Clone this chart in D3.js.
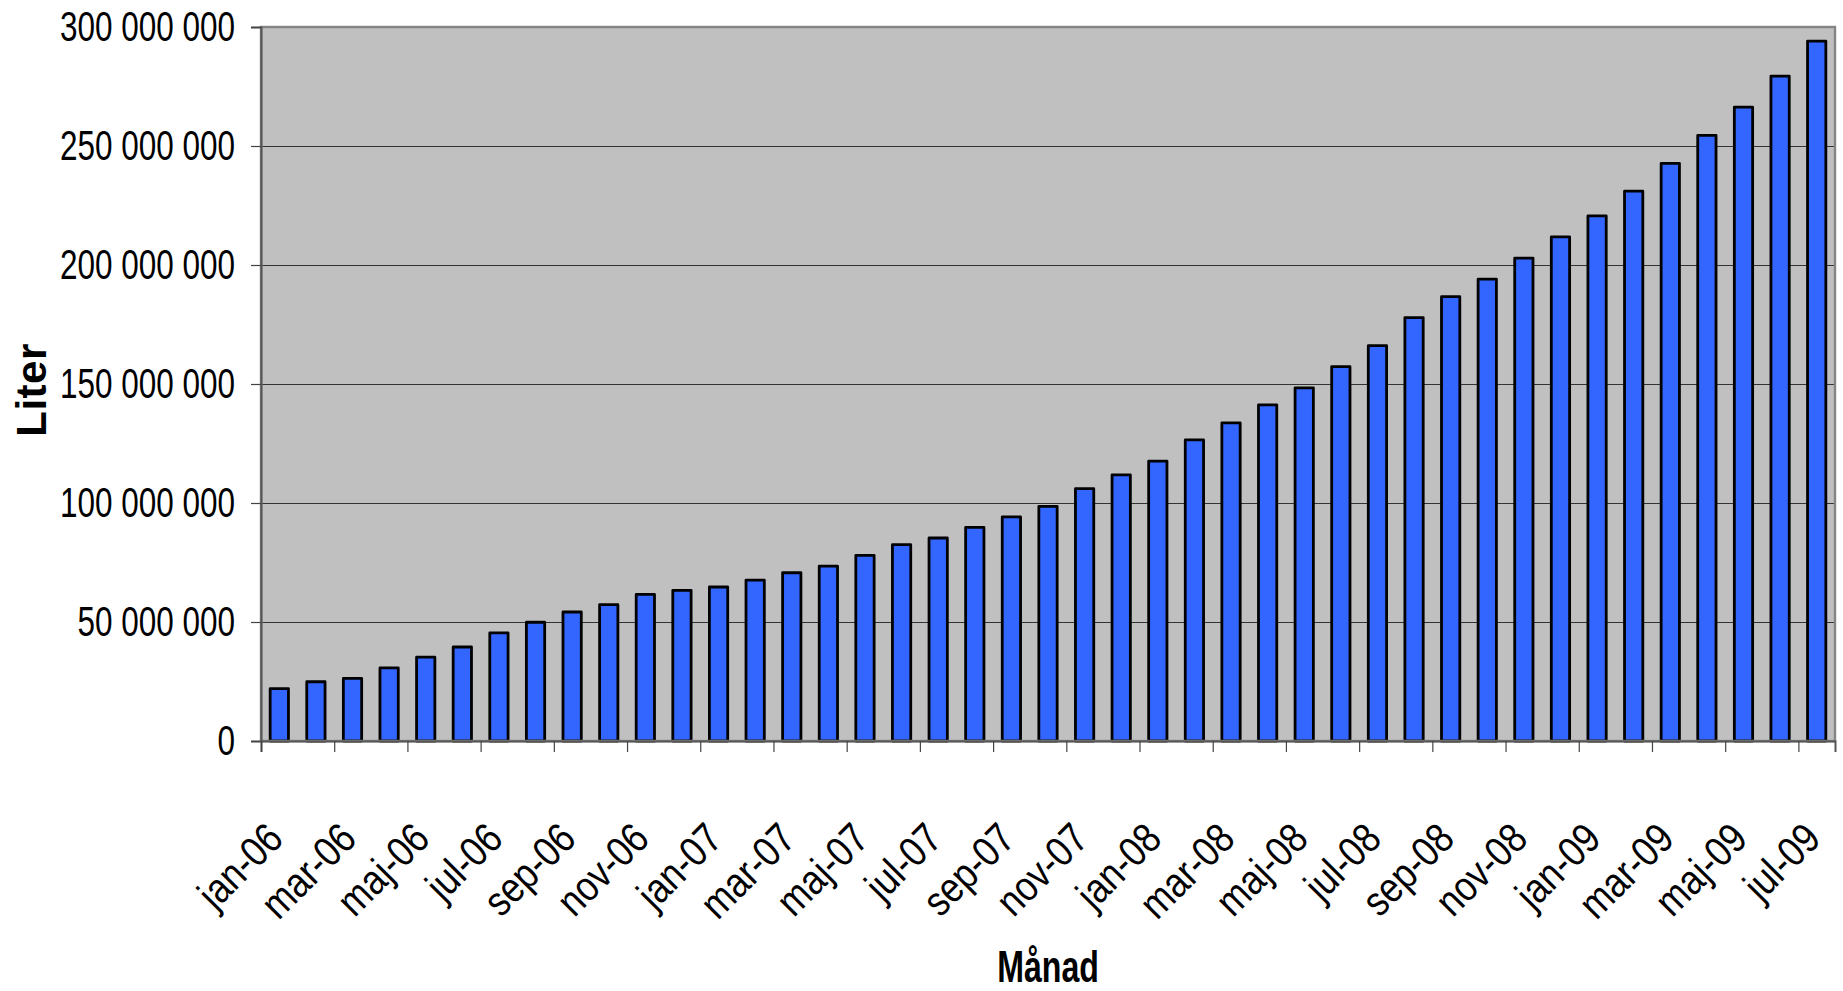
<!DOCTYPE html>
<html>
<head>
<meta charset="utf-8">
<script src="https://cdn.jsdelivr.net/npm/d3@7"></script>
<style>
  html, body { margin: 0; padding: 0; background: #ffffff; }
  svg { display: block; }
  text { font-family: "Liberation Sans", Arial, sans-serif; fill: #000; }
</style>
</head>
<body>
<svg id="chart" width="1843" height="991"></svg>
<script>
// Monthly categories, jan-06 .. jul-09
const categories = [
  "jan-06","feb-06","mar-06","apr-06","maj-06","jun-06","jul-06","aug-06","sep-06","okt-06","nov-06","dec-06",
  "jan-07","feb-07","mar-07","apr-07","maj-07","jun-07","jul-07","aug-07","sep-07","okt-07","nov-07","dec-07",
  "jan-08","feb-08","mar-08","apr-08","maj-08","jun-08","jul-08","aug-08","sep-08","okt-08","nov-08","dec-08",
  "jan-09","feb-09","mar-09","apr-09","maj-09","jun-09","jul-09"
];

// Volume per month, liters
const liters = [
  22000000, 24900000, 26300000, 30700000, 35200000, 39500000, 45400000, 49900000, 54200000, 57300000, 61600000,
  63300000, 64700000, 67600000, 70700000, 73500000, 78000000, 82500000, 85300000, 89800000, 94200000, 98600000,
  106000000, 111800000, 117600000, 126500000, 133700000, 141200000, 148400000, 157300000, 166100000, 177900000, 186700000,
  194100000, 202900000, 211800000, 220600000, 231000000, 242700000, 254500000, 266300000, 279400000, 294100000
];

const yTicks = [0, 50000000, 100000000, 150000000, 200000000, 250000000, 300000000];
const yTitle = "Liter";
const xTitle = "Månad";

const svg = d3.select("#chart");
const plotLeft = 261, plotRight = 1835, plotTop = 27, plotBottom = 741;

const x = d3.scaleBand().domain(categories).range([plotLeft, plotRight]).padding(0);
const xIdx = d3.scaleLinear().domain([0, categories.length]).range([plotLeft, plotRight]);
const y = d3.scaleLinear().domain([0, 300000000]).range([plotBottom, plotTop]);

const sv = d3.formatLocale({ decimal: ",", thousands: " ", grouping: [3], currency: ["", ""] });
const fmt = sv.format(",d");

// plot background
svg.append("rect")
  .attr("x", plotLeft).attr("y", plotTop)
  .attr("width", plotRight - plotLeft).attr("height", plotBottom - plotTop)
  .attr("fill", "#c0c0c0");

// horizontal gridlines
svg.append("g")
  .selectAll("line")
  .data(yTicks.filter(t => t > 0 && t < 300000000))
  .join("line")
  .attr("x1", plotLeft).attr("x2", plotRight)
  .attr("y1", d => y(d) + 0.5).attr("y2", d => y(d) + 0.5)
  .attr("stroke", "#333").attr("stroke-width", 1.2);

// bars
const bw = x.bandwidth() * 0.5;
svg.append("g")
  .selectAll("rect")
  .data(liters)
  .join("rect")
  .attr("x", (d, i) => x(categories[i]) + (x.bandwidth() - bw) / 2)
  .attr("y", d => y(d))
  .attr("width", bw)
  .attr("height", d => y(0) - y(d))
  .attr("fill", "#3366ff")
  .attr("stroke", "#000")
  .attr("stroke-width", 2.8)
  .attr("stroke-linejoin", "round");

// plot frame
svg.append("rect")
  .attr("x", plotLeft).attr("y", plotTop)
  .attr("width", plotRight - plotLeft).attr("height", plotBottom - plotTop)
  .attr("fill", "none")
  .attr("stroke", "#858585").attr("stroke-width", 2.4);

// y axis
const yAxis = svg.append("g")
  .attr("transform", `translate(${plotLeft},0)`)
  .call(d3.axisLeft(y).tickValues(yTicks).tickSize(10).tickFormat(fmt));
yAxis.select(".domain").attr("stroke", "#555").attr("stroke-width", 2);
yAxis.selectAll(".tick line").attr("stroke", "#444").attr("stroke-width", 1.2);
yAxis.selectAll(".tick text")
  .attr("x", 0)
  .attr("dy", "0.32em")
  .attr("transform", "translate(-26,0) scale(0.75,1)")
  .style("font-size", "42px")
  .style("font-family", "'Liberation Sans', Arial, sans-serif")
  .attr("fill", "#000");

// x axis tick marks at every second category boundary
const xTickAxis = svg.append("g")
  .attr("transform", `translate(0,${plotBottom})`)
  .call(d3.axisBottom(xIdx)
    .tickValues(d3.range(0, categories.length, 2))
    .tickSize(11)
    .tickFormat(""));
xTickAxis.select(".domain").attr("stroke", "#555").attr("stroke-width", 2);
xTickAxis.selectAll(".tick line").attr("stroke", "#444").attr("stroke-width", 1.2);

// x axis labels, every second month, rotated
const xLabelAxis = svg.append("g")
  .attr("transform", `translate(0,${plotBottom})`)
  .call(d3.axisBottom(x)
    .tickValues(categories.filter((c, i) => i % 2 === 0))
    .tickSize(0));
xLabelAxis.select(".domain").remove();
xLabelAxis.selectAll(".tick text")
  .attr("x", 0).attr("y", 0).attr("dy", 0)
  .attr("text-anchor", "end")
  .attr("transform", "translate(6,100) rotate(-45) scale(0.85,1)")
  .style("font-size", "42px")
  .style("font-family", "'Liberation Sans', Arial, sans-serif")
  .attr("fill", "#000");

// axis titles
svg.append("text")
  .attr("transform", "translate(46,390) rotate(-90)")
  .attr("text-anchor", "middle")
  .style("font-size", "42px")
  .style("font-weight", "bold")
  .style("letter-spacing", "0.5px")
  .text(yTitle);

svg.append("text")
  .attr("transform", `translate(${(plotLeft + plotRight) / 2},982) scale(0.73,1)`)
  .attr("text-anchor", "middle")
  .style("font-size", "44px")
  .style("font-weight", "bold")
  .text(xTitle);
</script>
</body>
</html>
